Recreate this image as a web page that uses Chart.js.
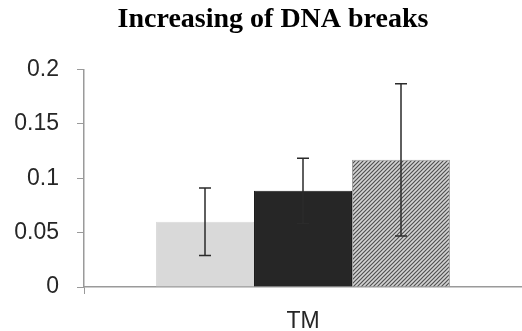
<!DOCTYPE html>
<html>
<head>
<meta charset="utf-8">
<script src="https://cdn.jsdelivr.net/npm/chart.js@4/dist/chart.umd.min.js"></script>
<style>
  html, body { margin: 0; padding: 0; background: #fff; }
  #wrap { width: 522px; height: 331px; }
</style>
</head>
<body>
<div id="wrap"><canvas id="myChart"></canvas></div>
<script>
/*---------------------
~~~~~~~Chart data~~~~~~~
---------------------*/
const categories = ['TM'];
const seriesNames = ['Group A', 'Group B', 'Group C'];
const seriesValues = [0.060, 0.0885, 0.117];
const seriesErrors = [0.031, 0.030, 0.070];
const yTickLabels = ['0', '0.05', '0.1', '0.15', '0.2'];

/*---------------------
~~~~~~~Helpers~~~~~~~
---------------------*/
function hatchPattern() {
    const tile = document.createElement('canvas');
    tile.width = 4;
    tile.height = 4;
    const t = tile.getContext('2d');
    t.fillStyle = '#d4d4d4';
    t.fillRect(0, 0, 4, 4);
    t.strokeStyle = '#505050';
    t.lineWidth = 1.2;
    t.beginPath();
    t.moveTo(-1, 5); t.lineTo(5, -1);
    t.moveTo(-1, 1); t.lineTo(1, -1);
    t.moveTo(3, 5); t.lineTo(5, 3);
    t.stroke();
    return t.createPattern(tile, 'repeat');
}

// draws the error bars through the y scale
const errorBars = {
    id: 'errorBars',
    afterDatasetsDraw(chart) {
        const ctx = chart.ctx;
        const y = chart.scales.y;
        ctx.save();
        ctx.strokeStyle = '#2b2b2b';
        ctx.lineWidth = 1.5;
        chart.data.datasets.forEach((ds, i) => {
            const meta = chart.getDatasetMeta(i);
            meta.data.forEach((bar, j) => {
                const v = ds.data[j];
                const e = ds.errors[j];
                const top = y.getPixelForValue(v + e);
                const bottom = y.getPixelForValue(v - e);
                const x = Math.round(bar.x);
                ctx.beginPath();
                ctx.moveTo(x, top); ctx.lineTo(x, bottom);
                ctx.moveTo(x - 6, top); ctx.lineTo(x + 6, top);
                ctx.moveTo(x - 6, bottom); ctx.lineTo(x + 6, bottom);
                ctx.stroke();
            });
        });
        ctx.restore();
    }
};

// nudge the title a bit to the right, like in the picture
const titleShift = {
    id: 'titleShift',
    afterLayout(chart) {
        chart.titleBlock.left += 24;
    }
};

/*---------------------
~~~~~~~Chart~~~~~~~
---------------------*/
const ctx = document.getElementById('myChart').getContext('2d');
const fills = ['#d9d9d9', '#262626', hatchPattern()];
const borders = ['#d9d9d9', '#1a1a1a', '#a0a0a0'];

const datasets = seriesNames.map((name, i) => ({
    label: name,
    data: [seriesValues[i]],
    errors: [seriesErrors[i]],
    backgroundColor: fills[i],
    borderColor: borders[i],
    borderWidth: 1
}));

new Chart(ctx, {
    type: 'bar',
    data: { labels: categories, datasets: datasets },
    plugins: [errorBars, titleShift],
    options: {
        responsive: true,
        maintainAspectRatio: false,
        animation: false,
        layout: { padding: 0 },
        datasets: { bar: { categoryPercentage: 0.671, barPercentage: 1 } },
        plugins: {
            legend: { display: false },
            tooltip: { enabled: false },
            title: {
                display: true,
                text: 'Increasing of DNA breaks',
                color: '#000',
                font: { family: 'Liberation Serif', size: 28, weight: 'bold' },
                padding: { top: 3, bottom: 33 }
            }
        },
        scales: {
            x: {
                grid: { drawOnChartArea: false, tickLength: 7, color: '#9a9a9a', offset: true },
                border: { color: '#9a9a9a', width: 1.5 },
                ticks: {
                    color: '#262626',
                    padding: 14,
                    font: { family: 'Liberation Sans', size: 23 }
                },
                afterFit(s) { s.height = 44; }
            },
            y: {
                min: 0,
                max: 0.2,
                grid: { drawOnChartArea: false, tickLength: 7, color: '#9a9a9a' },
                border: { color: '#9a9a9a', width: 1.5 },
                ticks: {
                    stepSize: 0.05,
                    color: '#262626',
                    padding: 18,
                    font: { family: 'Liberation Sans', size: 23 },
                    callback: (value, index) => yTickLabels[index]
                },
                afterFit(s) { s.width = 84; }
            }
        }
    }
});
</script>
</body>
</html>
